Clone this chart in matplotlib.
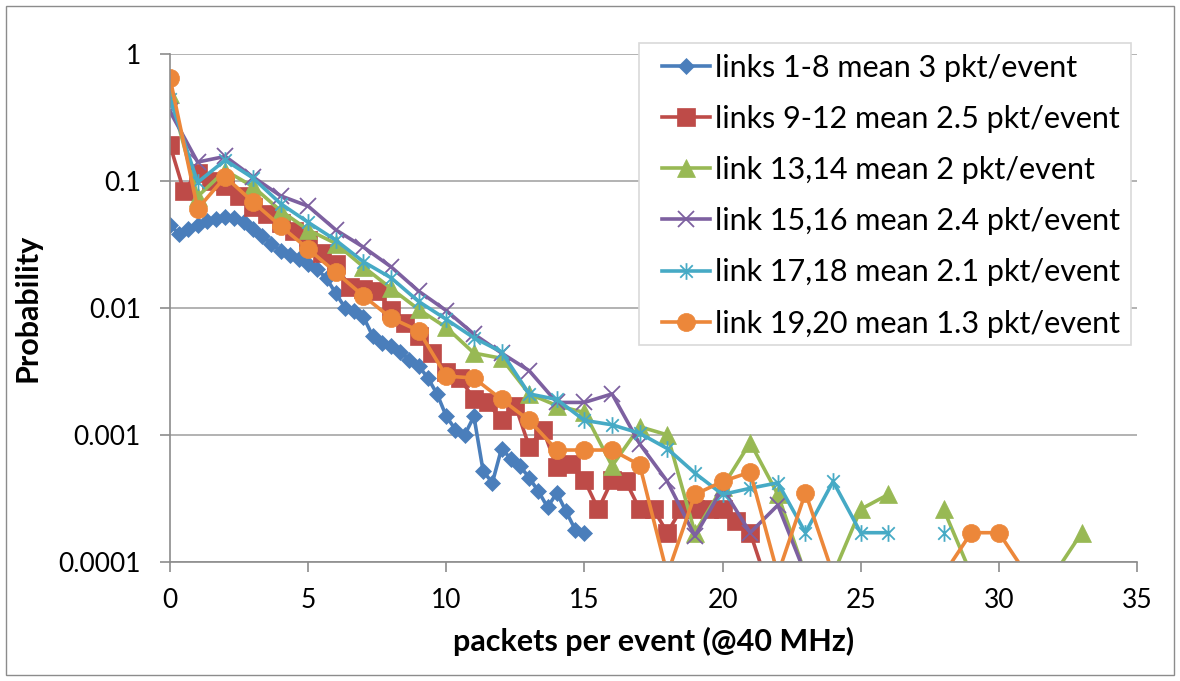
import numpy as np
import matplotlib
matplotlib.use("Agg")
import matplotlib.pyplot as plt
from matplotlib.ticker import FixedLocator, FixedFormatter, NullLocator
from matplotlib.path import Path
from matplotlib.patches import Rectangle

plt.rcParams['font.family'] = ['Lato', 'DejaVu Sans']

# ---------------- data ----------------
labels = [
    "links 1-8 mean 3 pkt/event",
    "links 9-12 mean 2.5 pkt/event",
    "link 13,14 mean 2 pkt/event",
    "link 15,16 mean 2.4 pkt/event",
    "link 17,18 mean 2.1 pkt/event",
    "link 19,20 mean 1.3 pkt/event",
]

# links 1-8: x in steps of 1/3
x_blue = np.arange(46) / 3.0
y_blue = [0.045, 0.038, 0.042, 0.045, 0.048, 0.050, 0.052, 0.051, 0.047, 0.042,
          0.037, 0.032, 0.028, 0.026, 0.024, 0.022, 0.020, 0.017, 0.013, 0.0100,
          0.0095, 0.0085, 0.0060, 0.0053, 0.0050, 0.0045, 0.0039, 0.0035, 0.0028, 0.0021,
          0.0014, 0.0011, 0.0010, 0.0014, 0.00052, 0.00042, 0.00078, 0.00065, 0.00057, 0.00046,
          0.00036, 0.00027, 0.00035, 0.00025, 0.00018, 0.00017]

# links 9-12: x in steps of 0.5
x_red = np.arange(44) * 0.5
y_red = [0.19, 0.083, 0.115, 0.10, 0.09, 0.076, 0.062, 0.055, 0.046, 0.040,
         0.034, 0.027, 0.022, 0.0145, 0.014, 0.0135, 0.0096, 0.0076, 0.0060, 0.0044,
         0.0031, 0.0028, 0.0019, 0.0018, 0.0013, 0.0017, 0.00081, 0.0011, 0.00056, 0.00059,
         0.00044, 0.00026, 0.00044, 0.00043, 0.00026, 0.00026, 0.00017, 0.00026, 0.00026, 0.00026,
         0.00026, 0.00021, 0.00017, 0.0]

# link 13,14
x_green = np.arange(34)
y_green = [0.48, 0.075, 0.12, 0.09, 0.058, 0.041, 0.032, 0.021, 0.0142, 0.0097,
           0.0070, 0.0044, 0.0040, 0.0021, 0.0017, 0.0015, 0.00057, 0.00116, 0.00100, 0.00017,
           0.00039, 0.00087, 0.00034, 0.0, 0.0, 0.00026, 0.00034, np.nan, 0.00026, 0.0,
           0.0, 0.0, 0.0, 0.00017]

# link 15,16
x_purple = np.arange(24)
y_purple = [0.35, 0.14, 0.155, 0.107, 0.076, 0.063, 0.041, 0.030, 0.021, 0.0135,
            0.0095, 0.0062, 0.0044, 0.0032, 0.0018, 0.0018, 0.0021, 0.00085, 0.00043, 0.00016,
            0.00038, 0.00017, 0.00028, 0.0]

# link 17,18
x_cyan = np.arange(29)
y_cyan = [0.44, 0.097, 0.145, 0.105, 0.066, 0.047, 0.034, 0.023, 0.0172, 0.0112,
          0.0081, 0.0058, 0.0045, 0.0021, 0.0019, 0.0013, 0.0012, 0.00103, 0.00078, 0.00050,
          0.00034, 0.00038, 0.00042, 0.00017, 0.00043, 0.00017, 0.00017, np.nan, 0.00017]

# link 19,20
x_orange = np.arange(32)
y_orange = [0.64, 0.060, 0.107, 0.068, 0.044, 0.029, 0.019, 0.0124, 0.0083, 0.0066,
            0.0029, 0.0028, 0.0019, 0.0013, 0.00076, 0.00076, 0.00076, 0.00058, 0.0, 0.00034,
            0.00043, 0.00051, 0.0, 0.00035, 0.0, 0.0, 0.0, 0.0, 0.0, 0.00017,
            0.00017, 0.0]

x_ticks = [0, 5, 10, 15, 20, 25, 30, 35]
y_ticks = [0.0001, 0.001, 0.01, 0.1, 1]
y_tick_labels = ["0.0001", "0.001", "0.01", "0.1", "1"]

# ---------------- styling ----------------
colors = ['#4A7EBB', '#BE4B48', '#98B954', '#7D60A0', '#46AAC5', '#EC873A']

asterisk = Path([(0, -1), (0, 1), (-0.75, -0.75), (0.75, 0.75), (-0.75, 0.75), (0.75, -0.75)],
                [Path.MOVETO, Path.LINETO, Path.MOVETO, Path.LINETO, Path.MOVETO, Path.LINETO])

styles = [
    dict(marker='D', ms=8.6, mfc=colors[0], mec=colors[0], mew=0.5),
    dict(marker='s', ms=12.5, mfc=colors[1], mec=colors[1], mew=0.5),
    dict(marker='^', ms=13, mfc=colors[2], mec=colors[2], mew=0.5),
    dict(marker='x', ms=11.5, mfc='none', mec=colors[3], mew=1.3),
    dict(marker=asterisk, ms=12, mfc='none', mec=colors[4], mew=1.3),
    dict(marker='o', ms=13, mfc=colors[5], mec=colors[5], mew=0.5),
]

FLOOR = 8e-5  # zero counts drawn below the axis minimum

W, H = 1180, 681
fig = plt.figure(figsize=(W / 100, H / 100), dpi=100)
ax = fig.add_axes([170 / W, 1 - 562 / H, (1137 - 170) / W, (562 - 53.5) / H])

series = [(x_blue, y_blue), (x_red, y_red), (x_green, y_green),
          (x_purple, y_purple), (x_cyan, y_cyan), (x_orange, y_orange)]

for (xs, ys), c, st, lab in zip(series, colors, styles, labels):
    ys = np.asarray(ys, dtype=float)
    yline = np.where(ys == 0, FLOOR, ys)
    mask = list(np.nan_to_num(ys) > 0)
    ax.plot(xs, yline, color=c, lw=2.6, markevery=mask, label=lab,
            solid_joinstyle='round', **st)

ax.set_yscale('log')
ax.set_ylim(1e-4, 1)
ax.set_xlim(0, 35)
ax.yaxis.set_major_locator(FixedLocator(y_ticks))
ax.yaxis.set_major_formatter(FixedFormatter(y_tick_labels))
ax.yaxis.set_minor_locator(NullLocator())
ax.xaxis.set_major_locator(FixedLocator(x_ticks))
ax.xaxis.set_minor_locator(NullLocator())

grid_c = '#A6A6A6'
ax.grid(axis='y', color=grid_c, lw=1.2)
ax.set_axisbelow(True)
for s in ['top', 'right']:
    ax.spines[s].set_visible(False)
for s in ['left', 'bottom']:
    ax.spines[s].set_color('#8C8C8C')
    ax.spines[s].set_linewidth(1.2)
ax.tick_params(axis='both', direction='out', length=7, width=1.2, color='#8C8C8C',
               labelsize=19, labelcolor='black')
ax.tick_params(axis='y', pad=14)
ax.tick_params(axis='x', pad=12)

ax.set_xlabel("packets per event (@40 MHz)", fontsize=22, fontweight='bold', labelpad=10)
ax.set_ylabel("Probability", fontsize=22, fontweight='bold', labelpad=12)

fs = 22
fs_px = fs * 100 / 72
leg = ax.legend(loc='upper left', bbox_to_anchor=(662 / W, 1 - 53.5 / H),
                bbox_transform=fig.transFigure, fontsize=fs, frameon=False,
                handlelength=48 / fs_px, handletextpad=5 / fs_px,
                labelspacing=0.76, borderpad=0, borderaxespad=0, numpoints=1)
leg.set_zorder(6)

# legend frame (white box under the legend entries)
frame = Rectangle((639 / W, 1 - 345 / H), (1131 - 639) / W, (345 - 43) / H,
                  transform=fig.transFigure, facecolor='white',
                  edgecolor='#D9D9D9', lw=1.2, zorder=5.5, clip_on=False)
ax.add_artist(frame)

# outer chart border
fig.patches.append(Rectangle((6 / W, 6 / H), (W - 12) / W, (H - 12) / H,
                             transform=fig.transFigure, fill=False,
                             edgecolor='#8C8C8C', lw=1.0))

fig.savefig("out.png", dpi=100)
